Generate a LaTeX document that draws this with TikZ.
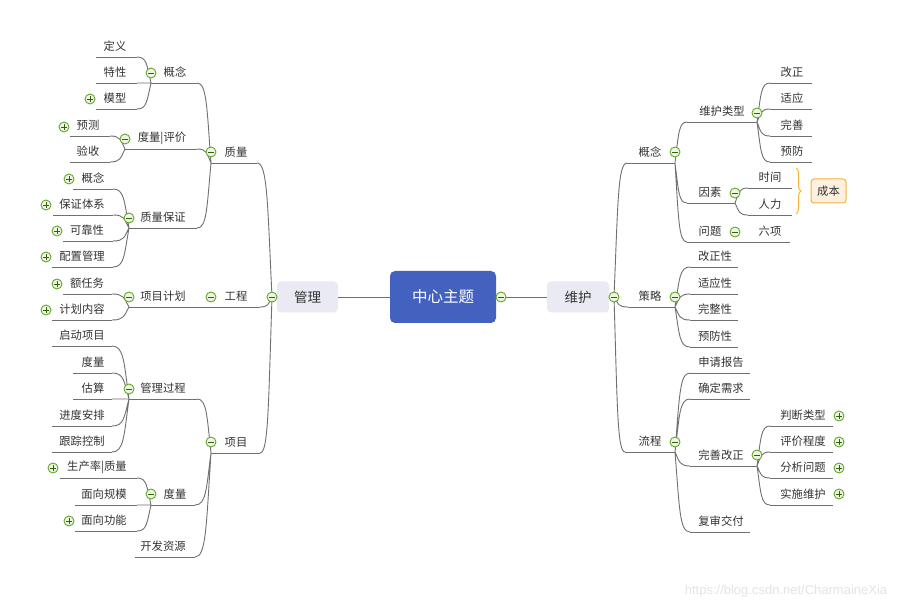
\documentclass[tikz,border=0pt]{standalone}
\usepackage{fontspec}
\setmainfont{Noto Sans CJK SC}
\newfontfamily\wmfont{Liberation Sans}
\usetikzlibrary{calc,decorations.pathreplacing}
\definecolor{txtc}{RGB}{51,51,51}
\definecolor{lnc}{RGB}{112,112,112}
\definecolor{rootc}{RGB}{67,97,190}
\definecolor{boxc}{RGB}{233,234,243}
\definecolor{tgc}{RGB}{98,168,40}
\definecolor{tgfill}{RGB}{236,246,226}
\definecolor{orc}{RGB}{245,178,61}
\definecolor{orfill}{RGB}{253,240,222}
\definecolor{wmc}{RGB}{228,228,228}
\newcommand\tpc[6]{%
  \coordinate (#1L) at (#5,#4);
  \coordinate (#1R) at (#6,#4);
  \node[txt] (#1) at (#3,#4-10.5) {#2};
  \draw[ln] (#1L) -- (#1R);}
\begin{document}
\begin{tikzpicture}[x=1pt,y=-1pt,
  ln/.style={draw=lnc, line width=0.9pt},
  br/.style={to path={let \p1=(\tikztostart), \p2=(\tikztotarget) in
     .. controls ({\x1+0.3*((\x2)-(\x1))},{\y1+0.7*((\y2)-(\y1))}) and ({\x1+0.3*((\x2)-(\x1))},{\y2}) .. (\tikztotarget)}},
  txt/.style={inner sep=0pt, text=txtc, font=\fontsize{11.3}{13}\selectfont},
  tog/.style={circle, draw=tgc, fill=tgfill, minimum size=10pt, inner sep=0pt, line width=0.9pt},
  minus/.style={tog, path picture={\draw[tgc!55!black, line width=0.9pt] ([xshift=-3pt]path picture bounding box.center) -- ([xshift=3pt]path picture bounding box.center);}},
  plus/.style={tog, path picture={\draw[tgc!55!black, line width=0.9pt] ([xshift=-3pt]path picture bounding box.center) -- ([xshift=3pt]path picture bounding box.center) ([yshift=-3pt]path picture bounding box.center) -- ([yshift=3pt]path picture bounding box.center);}},
  mainbox/.style={fill=boxc, rounded corners=4pt, minimum width=61pt, minimum height=31pt, inner sep=0pt, text=txtc, font=\fontsize{13.5}{16}\selectfont}
]
\useasboundingbox (0,0) rectangle (921,609);
\fill[white] (0,0) rectangle (921,609);

% central part
\node[fill=rootc, rounded corners=5pt, minimum width=106pt, minimum height=52pt, inner sep=0pt, text=white, font=\fontsize{15.5}{18}\selectfont] (root) at (443,297) {中心主题};
\node[mainbox] (gl) at (307.5,297) {管理};
\node[mainbox, minimum width=62pt] (wh) at (578,297) {维护};
\coordinate (glP) at (272,297);
\coordinate (whP) at (614,297);
\coordinate (rootP) at (501,297);
\draw[ln] (gl.east) -- (root.west);
\draw[ln] (rootP) -- (wh.west);

% ---------------- left side ----------------
\tpc{zl}{质量}{236}{163}{211}{257}
\tpc{gc}{工程}{236}{307}{211}{260}
\tpc{xm}{项目}{236}{453}{211}{260}
\draw[ln] (glP) to[br] (zlR) (glP) to[br] (gcR) (glP) to[br] (xmR);

\tpc{zla}{概念}{175}{83}{151}{197}
\tpc{zlb}{度量|评价}{162}{149}{125}{197}
\tpc{zlc}{质量保证}{163}{228}{129}{197}
\draw[ln] (zlL) to[br] (zlaR) (zlL) to[br] (zlbR) (zlL) to[br] (zlcR);

\tpc{zla1}{定义}{115}{57}{96}{137}
\tpc{zla2}{特性}{115}{83}{96}{137}
\tpc{zla3}{模型}{115}{109}{96}{137}
\draw[ln] (zlaL) to[br] (zla1R) (zlaL) to[br] (zla2R) (zlaL) to[br] (zla3R);

\tpc{zlb1}{预测}{88}{136}{70}{110}
\tpc{zlb2}{验收}{88}{162}{70}{110}
\draw[ln] (zlbL) to[br] (zlb1R) (zlbL) to[br] (zlb2R);

\tpc{zlc1}{概念}{93}{189}{73}{113}
\tpc{zlc2}{保证体系}{82}{215}{53}{113}
\tpc{zlc3}{可靠性}{87}{241}{63}{113}
\tpc{zlc4}{配置管理}{82}{267}{52}{113}
\draw[ln] (zlcL) to[br] (zlc1R) (zlcL) to[br] (zlc2R) (zlcL) to[br] (zlc3R) (zlcL) to[br] (zlc4R);

\tpc{gca}{项目计划}{163}{307}{129}{200}
\draw[ln] (gcL) -- (gcaR);
\tpc{gca1}{额任务}{87}{294}{63}{112}
\tpc{gca2}{计划内容}{82}{320}{52}{112}
\draw[ln] (gcaL) to[br] (gca1R) (gcaL) to[br] (gca2R);

\tpc{xma}{管理过程}{163}{399}{129}{197}
\tpc{xmb}{度量}{175}{505}{151}{195}
\tpc{xmc}{开发资源}{163}{557}{135}{195}
\draw[ln] (xmL) to[br] (xmaR) (xmL) to[br] (xmbR) (xmL) to[br] (xmcR);

\tpc{xma1}{启动项目}{82}{346}{52}{112}
\tpc{xma2}{度量}{93}{373}{73}{112}
\tpc{xma3}{估算}{93}{399}{73}{112}
\tpc{xma4}{进度安排}{82}{426}{52}{112}
\tpc{xma5}{跟踪控制}{82}{452}{52}{112}
\draw[ln] (xmaL) to[br] (xma1R) (xmaL) to[br] (xma2R) (xmaL) -- (xma3R)
          (xmaL) to[br] (xma4R) (xmaL) to[br] (xma5R);

\tpc{xmb1}{生产率|质量}{97}{478}{60}{137}
\tpc{xmb2}{面向规模}{104}{505}{75}{137}
\tpc{xmb3}{面向功能}{104}{531}{75}{137}
\draw[ln] (xmbL) to[br] (xmb1R) (xmbL) -- (xmb2R) (xmbL) to[br] (xmb3R);

% ---------------- right side ----------------
\tpc{wa}{概念}{650}{163}{627}{675}
\tpc{wb}{策略}{650}{307}{628}{675}
\tpc{wc}{流程}{650}{452}{625}{675}
\draw[ln] (whP) to[br] (waL) (whP) to[br] (wbL) (whP) to[br] (wcL);

\tpc{wa1}{维护类型}{722}{122}{687}{757}
\tpc{wa2}{因素}{710}{203}{687}{735}
\tpc{wa3}{问题}{710}{242}{687}{735}
\draw[ln] (waR) to[br] (wa1L) (waR) to[br] (wa2L) (waR) to[br] (wa3L);

\tpc{wa11}{改正}{792}{83}{770}{812}
\tpc{wa12}{适应}{792}{109}{770}{812}
\tpc{wa13}{完善}{792}{136}{770}{812}
\tpc{wa14}{预防}{792}{162}{770}{812}
\draw[ln] (wa1R) to[br] (wa11L) (wa1R) to[br] (wa12L) (wa1R) to[br] (wa13L) (wa1R) to[br] (wa14L);

\tpc{wa21}{时间}{770}{188}{748}{792}
\tpc{wa22}{人力}{770}{215}{748}{792}
\draw[ln] (wa2R) to[br] (wa21L) (wa2R) to[br] (wa22L);

\tpc{wa31}{六项}{770}{242}{748}{790}
\draw[ln] (wa3R) -- (wa31L);

\draw[orc, line width=1pt, decorate, decoration={brace, amplitude=5pt}] (796,168) -- (796,214);
\node[fill=orfill, draw=orc, line width=1pt, rounded corners=3pt, minimum width=35pt, minimum height=24pt, inner sep=0pt, text=txtc, font=\fontsize{11.3}{13}\selectfont] (cb) at (828.5,191) {成本};

\tpc{wb1}{改正性}{715}{267}{690}{738}
\tpc{wb2}{适应性}{715}{294}{690}{738}
\tpc{wb3}{完整性}{715}{320}{690}{738}
\tpc{wb4}{预防性}{715}{347}{690}{738}
\draw[ln] (wbR) to[br] (wb1L) (wbR) to[br] (wb2L) (wbR) to[br] (wb3L) (wbR) to[br] (wb4L);

\tpc{wc1}{申请报告}{721}{373}{690}{750}
\tpc{wc2}{确定需求}{721}{399}{690}{750}
\tpc{wc3}{完善改正}{721}{466}{690}{757}
\tpc{wc4}{复审交付}{721}{532}{690}{750}
\draw[ln] (wcR) to[br] (wc1L) (wcR) to[br] (wc2L) (wcR) to[br] (wc3L) (wcR) to[br] (wc4L);

\tpc{wc31}{判断类型}{803}{426}{770}{833}
\tpc{wc32}{评价程度}{803}{452}{770}{833}
\tpc{wc33}{分析问题}{803}{478}{770}{833}
\tpc{wc34}{实施维护}{803}{505}{770}{833}
\draw[ln] (wc3R) to[br] (wc31L) (wc3R) to[br] (wc32L) (wc3R) to[br] (wc33L) (wc3R) to[br] (wc34L);

% ---------------- toggles ----------------
\foreach \n/\x/\y in {m1/211/152, m2/211/297, m3/211/442, m4/151/73, m5/125/139, m6/129/218,
    m7/129/297, m8/129/389, m9/151/494, m10/272/297, m11/501/297, m12/614/297,
    m13/675/152, m14/675/297, m15/675/442, m16/757/113, m17/735/193, m18/735/232, m19/757/455}
  \node[minus] (\n) at (\x,\y) {};
\foreach \n/\x/\y in {p1/90/99, p2/64/127, p3/69/179, p4/46/205, p5/57/231, p6/46/257,
    p7/57/284, p8/46/310, p9/53/468, p10/69/521, p11/839/416, p12/839/442, p13/839/468, p14/839/494}
  \node[plus] (\n) at (\x,\y) {};

\node[inner sep=0pt, text=wmc, font=\wmfont\fontsize{13}{15}\selectfont] (wm) at (786,591) {https://blog.csdn.net/CharmaineXia};
\end{tikzpicture}
\end{document}
